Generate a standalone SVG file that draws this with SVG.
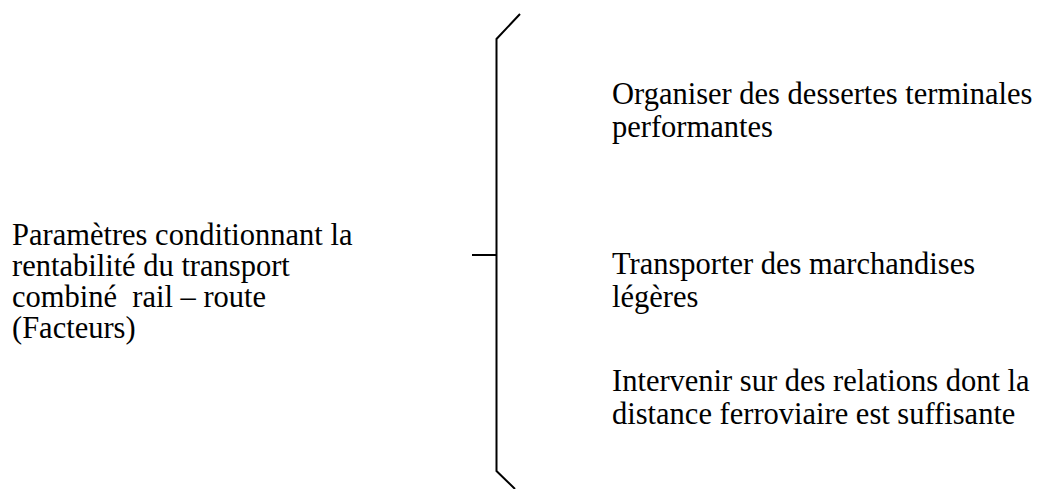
<svg xmlns="http://www.w3.org/2000/svg" width="1037" height="489" viewBox="0 0 1037 489">
<style>
  text { font-family: "Liberation Serif", "Times New Roman", serif; font-size: 30.5px; fill: #000; white-space: pre; }
  .ln { stroke: #000; stroke-width: 2; fill: none; }
</style>
<rect width="1037" height="489" fill="#fff"/>
<g id="connectors">
  <polyline class="ln" points="520,14 496.5,39 496.5,471 515,489"/>
  <line class="ln" x1="472" y1="255" x2="496.5" y2="255"/>
</g>
<g id="node-root">
  <text x="12" y="245">Paramètres conditionnant la</text>
  <text x="12" y="276">rentabilité du transport</text>
  <text x="12" y="307" xml:space="preserve">combiné  rail – route</text>
  <text x="12" y="338">(Facteurs)</text>
</g>
<g id="node-1">
  <text x="612" y="104">Organiser des dessertes terminales</text>
  <text x="612" y="137">performantes</text>
</g>
<g id="node-2">
  <text x="612" y="274">Transporter des marchandises</text>
  <text x="612" y="307">légères</text>
</g>
<g id="node-3">
  <text x="612" y="391">Intervenir sur des relations dont la</text>
  <text x="612" y="424">distance ferroviaire est suffisante</text>
</g>
</svg>
